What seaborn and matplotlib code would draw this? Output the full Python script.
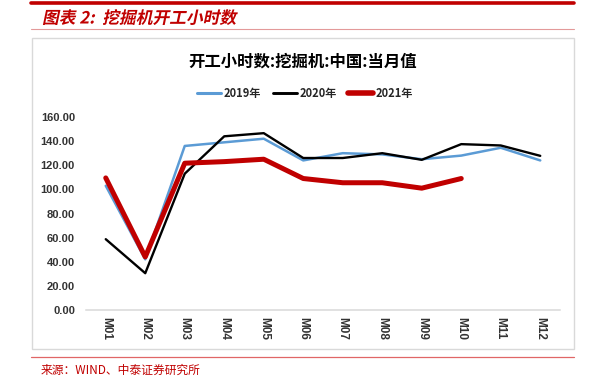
import matplotlib
matplotlib.use("Agg")
import matplotlib.pyplot as plt
import seaborn as sns
import pandas as pd
import numpy as np
from matplotlib.patches import Rectangle, PathPatch
from matplotlib.lines import Line2D
from matplotlib.textpath import TextPath
from matplotlib.font_manager import FontProperties
from matplotlib.transforms import Affine2D

months = ["M01", "M02", "M03", "M04", "M05", "M06", "M07", "M08", "M09", "M10", "M11", "M12"]
y2019 = [103, 42, 136, 139, 142, 124, 130, 129, 125, 128, 134.5, 124]
y2020 = [58.7, 30.5, 113, 144, 146.6, 126, 126, 130, 124.5, 137.5, 136.4, 127.8]
y2021 = [109.5, 44, 121.7, 123, 125, 109, 105.5, 105.5, 101, 109]
series_names = ["2019年", "2020年", "2021年"]
yticks = [0, 20, 40, 60, 80, 100, 120, 140, 160]

sns.set_theme(style="white")
plt.rcParams['font.family'] = ['Noto Sans CJK SC', 'DejaVu Sans']

W, H = 593, 391
fig = plt.figure(figsize=(W / 100, H / 100), dpi=100)

def fx(px):
    return px / W

def fy(py):
    return 1 - py / H

# header decorations
fig.add_artist(Line2D([fx(31), fx(574)], [fy(2.7), fy(2.7)], color="#C00000", lw=2.6))
fig.add_artist(Line2D([fx(31), fx(574)], [fy(29.3), fy(29.3)], color="#E39A9A", lw=0.8))

# italic (skewed) header title
header = "图表 2:  挖掘机开工小时数"
fp = FontProperties(family=['Noto Sans CJK SC'], weight="bold")
tp = TextPath((0, 0), header, size=1, prop=fp)
ext = tp.get_extents()
target_w = 196.0  # px
scale_px = target_w / (ext.width + 0.2)
tr = (Affine2D().skew_deg(12, 0).scale(scale_px / 100.0)
      .translate(42 / 100.0, (H - 23.5) / 100.0) + fig.dpi_scale_trans)
fig.add_artist(PathPatch(tp, transform=tr, facecolor="#C00000", edgecolor="none"))

fig.add_artist(Rectangle((fx(31.7), fy(349.3)), (574 - 31.7) / W, (349.3 - 37.7) / H,
                         fill=False, edgecolor="#D9D9D9", lw=1.0))
fig.add_artist(Line2D([fx(31), fx(574)], [fy(357.3), fy(357.3)], color="#E06666", lw=0.9))
fig.text(fx(40.5), fy(370), "来源：WIND、中泰证券研究所", color="#C00000", fontsize=8.5,
         va="center", ha="left")

ax = fig.add_axes([fx(86), fy(310), (560 - 86) / W, (310 - 117) / H])

data = pd.concat([
    pd.DataFrame({"month": months, "value": y2019, "year": series_names[0]}),
    pd.DataFrame({"month": months, "value": y2020, "year": series_names[1]}),
    pd.DataFrame({"month": months[:len(y2021)], "value": y2021, "year": series_names[2]}),
])
palette = {series_names[0]: "#5B9BD5", series_names[1]: "#000000", series_names[2]: "#C00000"}
sizes = {series_names[0]: 1.8, series_names[1]: 1.7, series_names[2]: 3.6}

sns.lineplot(data=data, x="month", y="value", hue="year", size="year",
             palette=palette, sizes=sizes, ax=ax, legend=False, sort=False)

lab_font = ['Liberation Sans', 'DejaVu Sans']
ax.set_xlim(-0.5, 11.5)
ax.set_ylim(0, 160)
ax.set_yticks(yticks)
ax.set_yticklabels([f"{v:.2f}" for v in yticks], fontsize=8, fontweight="bold",
                   color="#333333", family=lab_font)
ax.set_xticks(range(len(months)))
ax.set_xticklabels(months, rotation=-90, fontsize=8.5, fontweight="bold",
                   color="#333333", family=lab_font)
ax.tick_params(axis="y", length=0, pad=8)
ax.tick_params(axis="x", length=0, pad=5)
ax.set_xlabel("")
ax.set_ylabel("")
for s in ["top", "right", "left"]:
    ax.spines[s].set_visible(False)
ax.spines["bottom"].set_color("#D9D9D9")
ax.spines["bottom"].set_linewidth(1.1)
ax.patch.set_alpha(0)

fig.text(fx(303), fy(61.5), "开工小时数:挖掘机:中国:当月值", fontsize=11.8, fontweight="bold",
         ha="center", va="center", color="#000000")

handles = [Line2D([], [], color=palette[n], lw=sizes[n] + 0.4) for n in series_names]
fig.legend(handles, series_names, loc="center", bbox_to_anchor=(fx(305), fy(93.3)), ncol=3,
           frameon=False, prop={"size": 8, "weight": "bold"}, handlelength=2.2,
           columnspacing=1.0, handletextpad=0.25)

fig.savefig("out.png", dpi=100)
